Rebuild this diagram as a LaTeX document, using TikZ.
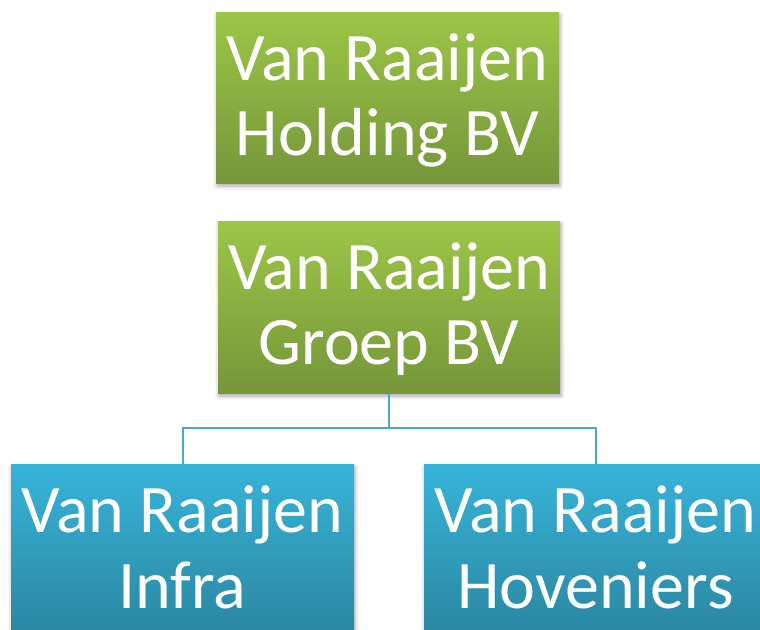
\documentclass[tikz,border=0pt]{standalone}
\usepackage{fontspec}
\setmainfont{Carlito}
\usetikzlibrary{shadows.blur}
\definecolor{gtop}{HTML}{9CC648}
\definecolor{gbot}{HTML}{76963A}
\definecolor{btop}{HTML}{38B4D8}
\definecolor{bbot}{HTML}{2A86A1}
\definecolor{linkc}{HTML}{48AAC6}
\tikzset{
  box/.style={rectangle, inner sep=0pt, minimum width=343pt, minimum height=171pt,
    blur shadow={shadow xshift=1pt, shadow yshift=-3pt, shadow blur radius=4pt, shadow opacity=35}},
  gbox/.style={box, top color=gtop, bottom color=gbot},
  bbox/.style={box, top color=btop, bottom color=bbot},
  txt/.style={text=white, font=\fontsize{68pt}{75pt}\selectfont, inner sep=0pt, anchor=base},
  link/.style={draw=linkc, line width=2pt}
}
\begin{document}
\begin{tikzpicture}[x=1pt,y=1pt]
\useasboundingbox (0,0) rectangle (760,-629);
\begin{scope}
\clip (0,0) rectangle (760,-629);
\node[gbox] (hold) at (387.5,-97.5) {};
\node[gbox, minimum width=342pt, minimum height=172pt] (groep) at (389,-307) {};
\node[bbox] (infra) at (182.5,-549.5) {};
\node[bbox] (hov) at (595.5,-549.5) {};
\coordinate (split) at (389,-428);
\draw[link] (groep.south) -- (split) -| (infra.north);
\draw[link] (split) -| (hov.north);
\node[txt] (hold1) at (387.5,-80) {Van Raaijen};
\node[txt] (hold2) at (387.5,-155) {Holding BV};
\node[txt] (groep1) at (389,-289) {Van Raaijen};
\node[txt] (groep2) at (389,-364) {Groep BV};
\node[txt] (infra1) at (182.5,-532) {Van Raaijen};
\node[txt] (infra2) at (182.5,-608) {Infra};
\node[txt] (hov1) at (595.5,-532) {Van Raaijen};
\node[txt] (hov2) at (595.5,-608) {Hoveniers};
\end{scope}
\end{tikzpicture}
\end{document}
